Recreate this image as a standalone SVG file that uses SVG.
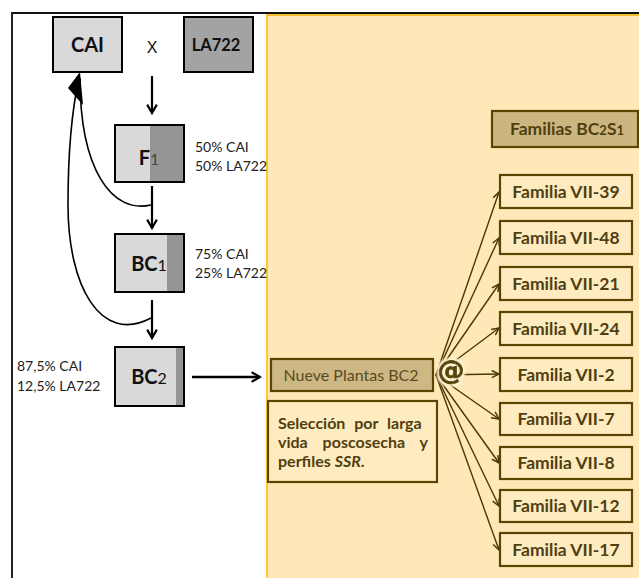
<svg xmlns="http://www.w3.org/2000/svg" width="639" height="578" viewBox="0 0 639 578">
<defs>
<style>
.t{font-family:Lato,"Liberation Sans",sans-serif;}
.g{stroke:#000;stroke-width:2;}
.fam rect{fill:#FFEBC0;stroke:#5A4500;stroke-width:2.2;}
.fam text{font-family:Lato,"Liberation Sans",sans-serif;font-weight:bold;font-size:17.5px;fill:#4F3F10;text-anchor:middle;}
.pct{font-family:Lato,"Liberation Sans",sans-serif;font-size:14px;fill:#222;}
.fan line{stroke:#4A3800;stroke-width:1.4;marker-end:url(#ah);}
</style>
<marker id="ah" viewBox="0 0 10 10" refX="9" refY="5" markerWidth="9" markerHeight="9" markerUnits="userSpaceOnUse" orient="auto">
<path d="M1,1 L9,5 L1,9" fill="none" stroke="#4A3800" stroke-width="1.6"/>
</marker>
<marker id="bk" viewBox="0 0 10 10" refX="8" refY="5" markerWidth="12" markerHeight="12" markerUnits="userSpaceOnUse" orient="auto">
<path d="M1,1 L8,5 L1,9" fill="none" stroke="#000" stroke-width="1.8"/>
</marker>
<filter id="glow" x="-30%" y="-30%" width="160%" height="160%">
<feMorphology in="SourceAlpha" operator="dilate" radius="1.5" result="d"/>
<feGaussianBlur in="d" stdDeviation="1.2" result="b"/>
<feFlood flood-color="#FFF4D0"/>
<feComposite in2="b" operator="in" result="c"/>
<feMerge><feMergeNode in="c"/><feMergeNode in="SourceGraphic"/></feMerge>
</filter>
</defs>
<rect x="0" y="0" width="639" height="578" fill="#fff"/>
<rect x="267" y="14" width="372" height="564" fill="#FEE8B7"/>
<line x1="267" y1="14" x2="267" y2="578" stroke="#FFC000" stroke-width="1.6"/>
<line x1="267" y1="15" x2="639" y2="15" stroke="#F0B000" stroke-width="1.5"/>
<line x1="12" y1="13" x2="639" y2="13" stroke="#111" stroke-width="2"/>
<line x1="12" y1="12" x2="12" y2="578" stroke="#222" stroke-width="2"/>

<g id="connectors" fill="none">
<line x1="152" y1="76" x2="152" y2="113" stroke="#000" stroke-width="2.2" marker-end="url(#bk)"/>
<line x1="152" y1="186" x2="152" y2="228" stroke="#000" stroke-width="2.2" marker-end="url(#bk)"/>
<line x1="152" y1="300" x2="152" y2="338" stroke="#000" stroke-width="2.2" marker-end="url(#bk)"/>
<line x1="192" y1="377" x2="260" y2="377" stroke="#000" stroke-width="2.5" marker-end="url(#bk)"/>
<path d="M151,205 C112,214 80,170 80,78" stroke="#000" stroke-width="1.6"/>
<path d="M151,318 C100,345 68,285 68,205 C68,145 73,105 79,78" stroke="#000" stroke-width="1.6"/>
<path d="M80,72 L83,105 L75,96 L68,88 Z" fill="#000"/>
<g class="fan">
<line x1="436" y1="375" x2="499" y2="192"/>
<line x1="436" y1="375" x2="499" y2="238"/>
<line x1="436" y1="375" x2="499" y2="284"/>
<line x1="436" y1="375" x2="499" y2="328"/>
<line x1="436" y1="375" x2="499" y2="374"/>
<line x1="436" y1="375" x2="499" y2="419"/>
<line x1="436" y1="375" x2="499" y2="463"/>
<line x1="436" y1="375" x2="499" y2="506"/>
<line x1="436" y1="375" x2="499" y2="550"/>
</g>
</g>

<g id="cai"><rect x="53" y="17" width="69" height="55" fill="#D9D9D9" class="g"/>
<text x="87.5" y="52" class="t" font-weight="bold" font-size="20" text-anchor="middle" fill="#111">CAI</text></g>
<g id="x"><text x="152" y="53" font-family="Liberation Sans,sans-serif" font-size="16" text-anchor="middle" fill="#111">X</text></g>
<g id="la722"><rect x="184" y="17" width="69" height="55" fill="#A3A3A3" class="g"/>
<text x="216" y="51" class="t" font-weight="bold" font-size="16.5" text-anchor="middle" fill="#111">LA722</text></g>

<g id="f1"><rect x="115" y="125" width="69" height="57" fill="#D9D9D9"/>
<rect x="150" y="125" width="34" height="57" fill="#959595"/>
<rect x="115" y="125" width="69" height="57" fill="none" class="g"/>
<text x="149" y="165" class="t" font-size="20" text-anchor="middle" fill="#111"><tspan font-weight="bold">F</tspan><tspan font-size="16" fill="#444">1</tspan></text>
<text class="pct" x="195" y="152">50% CAI</text><text class="pct" x="195" y="171">50% LA722</text></g>

<g id="bc1"><rect x="115" y="234" width="69" height="58" fill="#D9D9D9"/>
<rect x="167" y="234" width="17" height="58" fill="#959595"/>
<rect x="115" y="234" width="69" height="58" fill="none" class="g"/>
<text x="149" y="271" class="t" font-size="20" text-anchor="middle" fill="#111"><tspan font-weight="bold">BC</tspan><tspan font-size="16">1</tspan></text>
<text class="pct" x="195" y="259">75% CAI</text><text class="pct" x="195" y="278">25% LA722</text></g>

<g id="bc2"><rect x="115" y="347" width="69" height="59" fill="#D9D9D9"/>
<rect x="176" y="347" width="8" height="59" fill="#959595"/>
<rect x="115" y="347" width="69" height="59" fill="none" class="g"/>
<text x="149" y="384" class="t" font-size="20" text-anchor="middle" fill="#111"><tspan font-weight="bold">BC</tspan><tspan font-size="16">2</tspan></text>
<text class="pct" x="17" y="371">87,5% CAI</text><text class="pct" x="17" y="391">12,5% LA722</text></g>

<g id="header"><rect x="492" y="111" width="146" height="36" fill="#CCB67F" stroke="#5A4500" stroke-width="2.2"/>
<text x="567" y="135" class="t" font-weight="bold" font-size="17.5" text-anchor="middle" fill="#4F3F10">Familias BC<tspan font-size="13">2</tspan>S<tspan font-size="13">1</tspan></text></g>

<g id="nueve"><rect x="271" y="359" width="162" height="32" fill="#CDB783" stroke="#5A4500" stroke-width="2.2"/>
<text x="351" y="381" class="t" font-size="16" text-anchor="middle" fill="#5A4A22">Nueve Plantas BC2</text></g>

<g id="at"><text x="451" y="379" font-family="DejaVu Sans,sans-serif" font-weight="bold" font-size="27" text-anchor="middle" fill="#5A4500" stroke="#5A4500" stroke-width="0.9" filter="url(#glow)">@</text></g>

<g id="seleccion"><rect x="268" y="401" width="169" height="81" fill="#FFEBC0" stroke="#5A4500" stroke-width="2.2"/>
<text class="t" font-weight="bold" font-size="16" fill="#4F3F10">
<tspan x="278" y="429" word-spacing="5">Selección por larga</tspan>
<tspan x="278" y="448" word-spacing="11">vida poscosecha y</tspan>
<tspan x="278" y="467">perfiles <tspan font-style="italic">SSR</tspan>.</tspan>
</text></g>

<g id="f39" class="fam"><rect x="500" y="175" width="132" height="33"/><text x="566" y="198">Familia VII-39</text></g>
<g id="f48" class="fam"><rect x="500" y="221" width="132" height="33"/><text x="566" y="244">Familia VII-48</text></g>
<g id="f21" class="fam"><rect x="500" y="267" width="132" height="33"/><text x="566" y="290">Familia VII-21</text></g>
<g id="f24" class="fam"><rect x="500" y="312" width="132" height="33"/><text x="566" y="335">Familia VII-24</text></g>
<g id="f2" class="fam"><rect x="500" y="358" width="132" height="33"/><text x="566" y="381">Familia VII-2</text></g>
<g id="f7" class="fam"><rect x="500" y="403" width="132" height="32"/><text x="566" y="425">Familia VII-7</text></g>
<g id="f8" class="fam"><rect x="500" y="447" width="132" height="32"/><text x="566" y="469">Familia VII-8</text></g>
<g id="f12" class="fam"><rect x="500" y="490" width="132" height="32"/><text x="566" y="512">Familia VII-12</text></g>
<g id="f17" class="fam"><rect x="500" y="533" width="132" height="33"/><text x="566" y="556">Familia VII-17</text></g>
</svg>
